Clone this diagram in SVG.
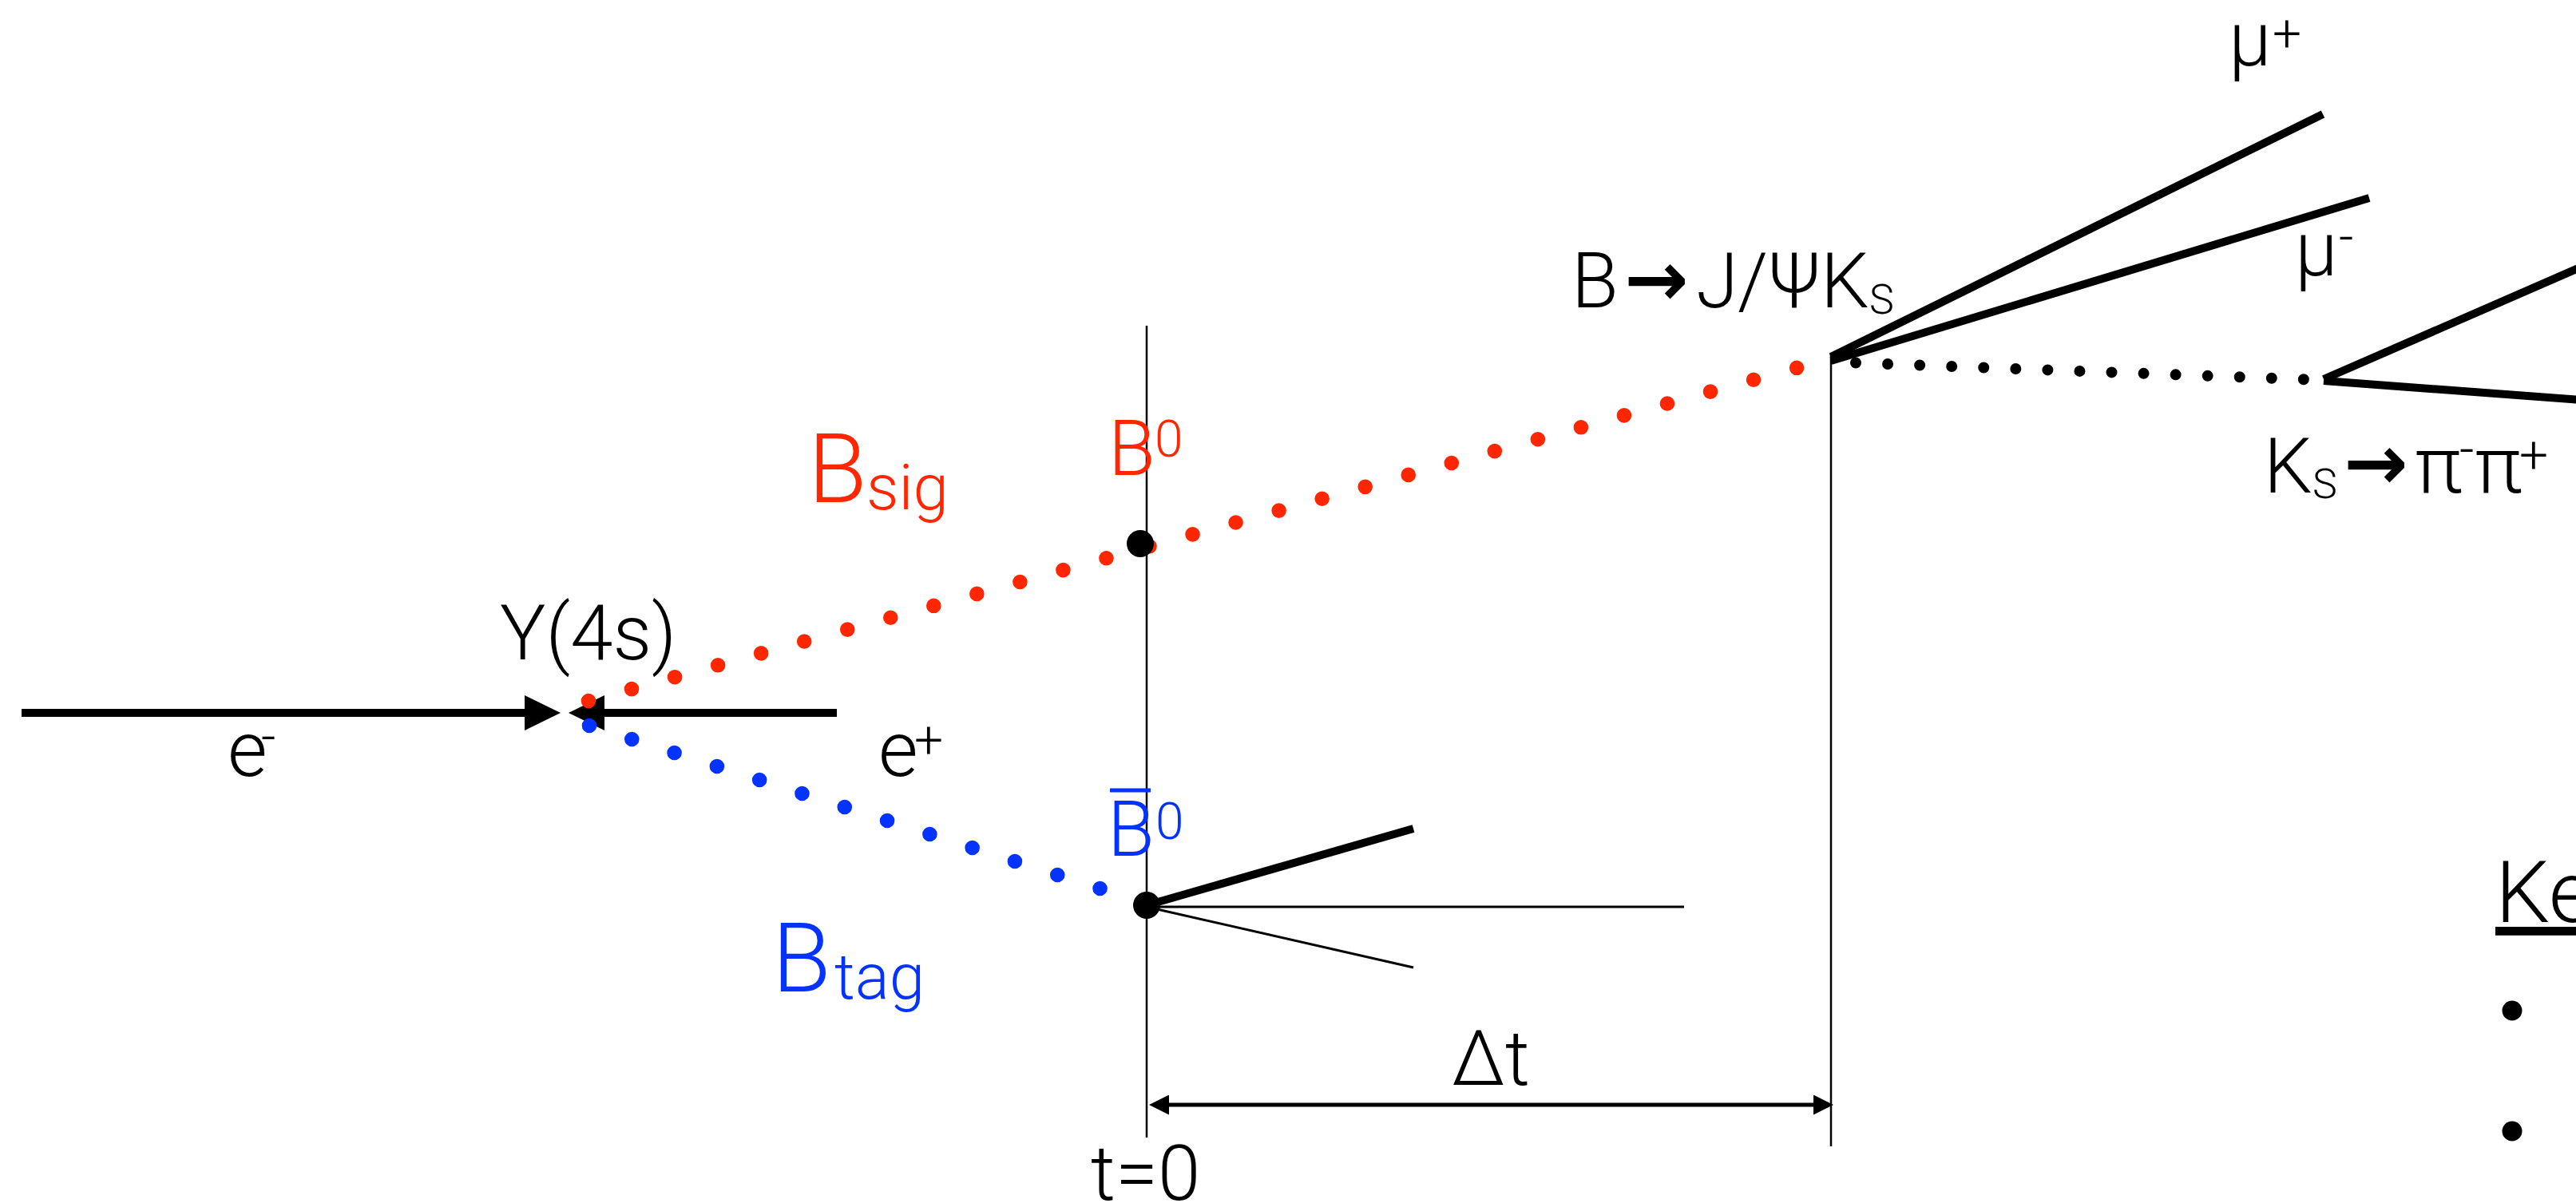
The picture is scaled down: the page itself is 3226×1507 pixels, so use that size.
<svg xmlns="http://www.w3.org/2000/svg" width="3226" height="1507" viewBox="0 0 3226 1507">
<style>
text{font-family:Roboto,"Liberation Sans",sans-serif;font-weight:300;fill:#000;font-size:96px}
.sup{font-size:64px}
.sub{font-size:52px}
.big{font-size:120px}
.small{font-size:80px}
.red{fill:#FF2600}
.blue{fill:#0433FF}
.arr{font-family:"DejaVu Sans",sans-serif;font-weight:700;font-size:96px}
.thick{stroke:#000;stroke-width:10;fill:none}
.thin{stroke:#000;stroke-width:3;fill:none}
.hair{stroke:#000;stroke-width:2.5;fill:none}
.dots{fill:none;stroke-linecap:round}
</style>
<defs>
<marker id="beamHead" viewBox="0 0 45 44" markerWidth="45" markerHeight="44" refX="23" refY="22" orient="auto" markerUnits="userSpaceOnUse">
<path d="M0,0 L45,22 L0,44 Z" fill="#000"/>
</marker>
<marker id="dtHead" viewBox="0 0 25 25" markerWidth="25" markerHeight="25" refX="13" refY="12.5" orient="auto-start-reverse" markerUnits="userSpaceOnUse">
<path d="M0,0 L25,12.5 L0,25 Z" fill="#000"/>
</marker>
</defs>
<rect width="3226" height="1507" fill="#fff"/>

<g id="connectors">
<!-- beams -->
<line class="thick" x1="27" y1="893" x2="680" y2="893" marker-end="url(#beamHead)"/>
<line class="thick" x1="1048" y1="893" x2="734" y2="893" marker-end="url(#beamHead)"/>
<!-- time axes -->
<line class="hair" x1="1436" y1="408" x2="1436" y2="1425"/>
<line class="hair" x1="2293" y1="442" x2="2293" y2="1436"/>
<!-- delta t arrow -->
<line x1="1451" y1="1384" x2="2284" y2="1384" stroke="#000" stroke-width="5" marker-start="url(#dtHead)" marker-end="url(#dtHead)"/>
<!-- B sig flight -->
<path class="dots" d="M737,878 L2250.1,460.8" stroke="#FF2600" stroke-width="18.6" stroke-dasharray="0 56.055"/>
<!-- B tag flight -->
<path class="dots" d="M738,909 L1377.6,1113" stroke="#0433FF" stroke-width="18.6" stroke-dasharray="0 55.94"/>
<!-- Ks flight -->
<path class="dots" d="M2324,454.5 L2885,475.3" stroke="#000" stroke-width="14" stroke-dasharray="0 40.09"/>
<!-- muons -->
<line class="thick" x1="2293" y1="447" x2="2909" y2="143"/>
<line class="thick" x1="2293" y1="452" x2="2967" y2="248"/>
<!-- pions -->
<line class="thick" x1="2910" y1="475" x2="3300" y2="305"/>
<line class="thick" x1="2910" y1="477" x2="3300" y2="506"/>
<!-- B tag decay products -->
<line class="thick" x1="1436" y1="1134" x2="1770" y2="1038"/>
<line class="thin" x1="1436" y1="1136" x2="2109" y2="1136"/>
<line class="thin" x1="1436" y1="1136" x2="1770" y2="1212"/>
</g>

<g id="node-beams">
<text x="285" y="972">e<tspan class="sup" x="327" y="945">-</tspan></text>
<text x="1100" y="972">e<tspan class="sup" x="1145" y="949">+</tspan></text>
</g>

<g id="node-upsilon">
<text x="626" y="826">Y(4s)</text>
</g>

<g id="node-bsig">
<text class="big red" x="1012" y="629">B<tspan class="small" x="1085" y="638">sig</tspan></text>
</g>

<g id="node-btag">
<text class="big blue" x="967" y="1242">B<tspan class="small" x="1045" y="1251">tag</tspan></text>
</g>

<g id="node-b0">
<circle cx="1428" cy="681" r="17" fill="#000"/>
<text class="red" x="1388" y="595">B<tspan class="sup" x="1446" y="572">0</tspan></text>
</g>

<g id="node-b0bar">
<circle cx="1436" cy="1134" r="17" fill="#000"/>
<line x1="1390" y1="990" x2="1441" y2="990" stroke="#0433FF" stroke-width="5"/>
<text class="blue" x="1387" y="1072">B<tspan class="sup" x="1447" y="1051">0</tspan></text>
</g>

<g id="node-jpsiks">
<text x="1968" y="385">B<tspan class="arr" x="2034" y="383">→</tspan><tspan x="2124" y="385">J</tspan><tspan x="2176" y="385">/</tspan><tspan x="2214" y="385">Ψ</tspan><tspan x="2280" y="385">K</tspan><tspan class="sub" x="2341" y="393">S</tspan></text>
</g>

<g id="node-ks">
<text x="2835" y="617">K<tspan class="sub" x="2896" y="624">S</tspan><tspan class="arr" x="2935" y="613">→</tspan><tspan font-size="100" x="3024" y="617">π</tspan><tspan class="sup" x="3080" y="585">-</tspan><tspan font-size="100" x="3099" y="617">π</tspan><tspan class="sup" x="3155" y="592">+</tspan></text>
</g>

<g id="node-muplus">
<text x="2791" y="82">μ<tspan class="sup" x="2846" y="64">+</tspan></text>
</g>

<g id="node-muminus">
<text x="2874" y="345">μ<tspan class="sup" x="2929" y="319">-</tspan></text>
</g>

<g id="node-dt">
<text x="1818" y="1359">Δt</text>
<text x="1366" y="1503">t=0</text>
</g>

<g id="node-key">
<text x="3125" y="1155" style="font-size:108px" text-decoration="underline">Ke</text>
<circle cx="3146" cy="1266" r="12.5" fill="#000"/>
<circle cx="3146" cy="1417" r="12.5" fill="#000"/>
</g>
</svg>
